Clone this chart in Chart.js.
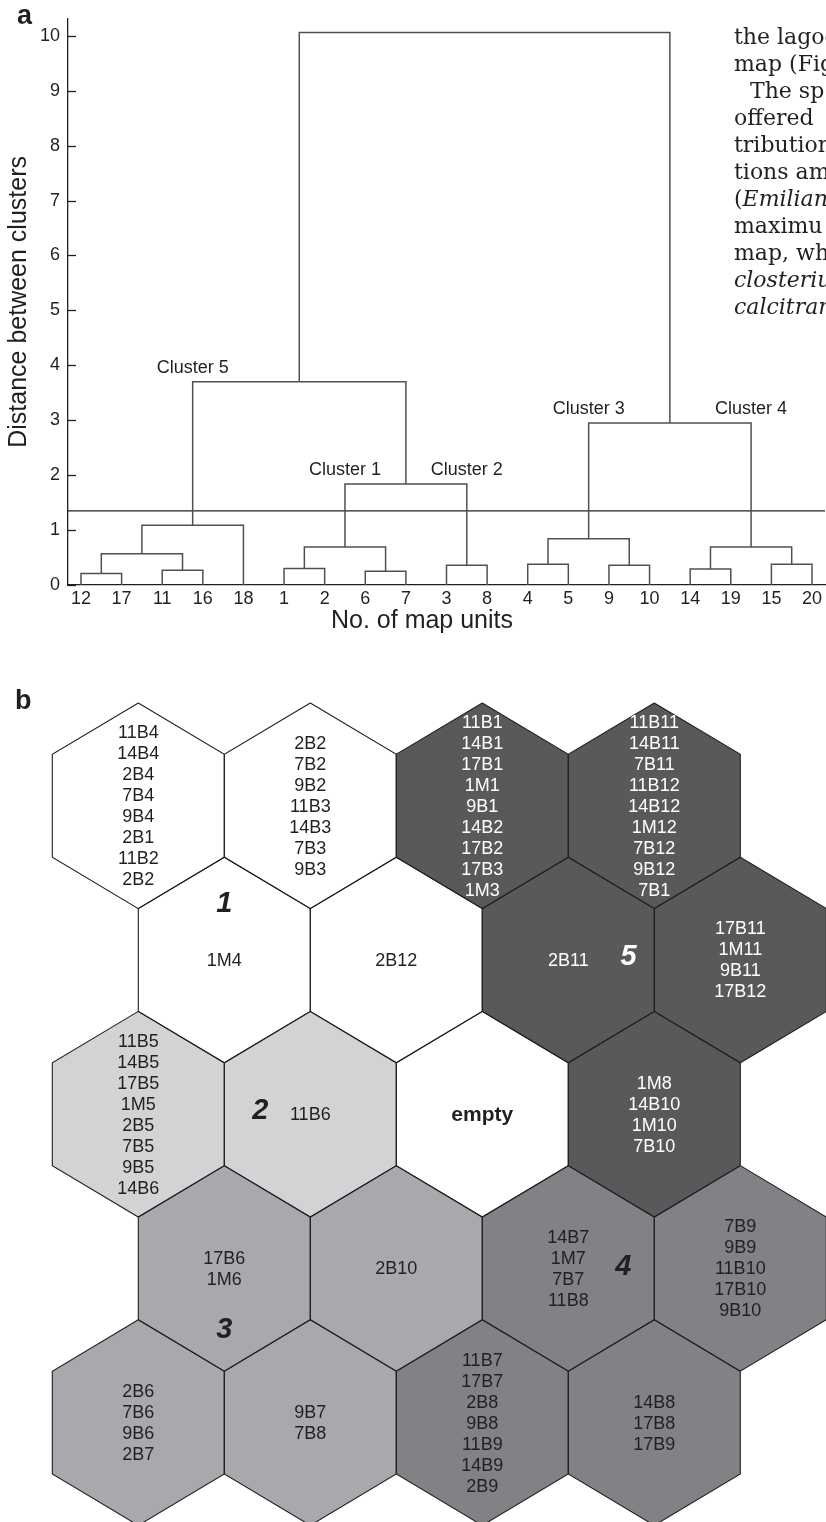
<!DOCTYPE html>
<html>
<head>
<meta charset="utf-8">
<script src="https://cdn.jsdelivr.net/npm/chart.js@4.4.1/dist/chart.umd.min.js"></script>
<style>
html,body{margin:0;padding:0;background:#fff;}
body{width:826px;height:1522px;position:relative;overflow:hidden;font-family:"Liberation Sans",Arial,sans-serif;color:#231f20;}
#wa{position:absolute;left:0;top:0;width:826px;height:640px;}
#wb{position:absolute;left:0;top:640px;width:826px;height:882px;}
.panel{position:absolute;font-weight:bold;font-size:27px;line-height:27px;}
#txt{position:absolute;left:734px;top:23px;font-family:"DejaVu Serif",serif;font-size:22px;line-height:27px;white-space:nowrap;color:#231f20;}
</style>
</head>
<body>
<div id="wa"><canvas id="ca" width="826" height="640"></canvas></div>
<div id="wb"><canvas id="cb" width="826" height="882"></canvas></div>
<div class="panel" style="left:17px;top:2px;">a</div>
<div class="panel" style="left:15px;top:687px;">b</div>
<div id="txt">
<div>the lagoo</div>
<div>map (Fig</div>
<div style="text-indent:16px">The sp</div>
<div>offered</div>
<div>tribution</div>
<div>tions am</div>
<div>(<i>Emilian</i></div>
<div>maximu</div>
<div>map, wh</div>
<div><i>closteriu</i></div>
<div><i>calcitran</i></div>
</div>
<script>
// ---------- DATA: panel a (dendrogram) ----------
const leafLabels = ['12','17','11','16','18','1','2','6','7','3','8','4','5','9','10','14','19','15','20'];
// merges: children are leaf indices (0..18) or merged nodes (19 + merge index)
const mergeLeft   = [0, 2, 19, 21, 5, 7, 23, 9, 25, 22, 11, 13, 29, 15, 17, 32, 31, 28];
const mergeRight  = [1, 3, 20, 4, 6, 8, 24, 10, 26, 27, 12, 14, 30, 16, 18, 33, 34, 35];
const mergeHeight = [0.21, 0.27, 0.57, 1.09, 0.30, 0.25, 0.69, 0.36, 1.84, 3.70, 0.38, 0.36, 0.84, 0.29, 0.38, 0.69, 2.95, 10.06];
const cutHeight = 1.35;
const yTicks = [0,1,2,3,4,5,6,7,8,9,10];
const clusterNames = ['Cluster 5','Cluster 1','Cluster 2','Cluster 3','Cluster 4'];
const clusterNodes = [22, 25, 26, 31, 34];

// ---------- DATA: panel b (SOM hexagon map) ----------
const hexCol = [0,1,2,3, 0,1,2,3, 0,1,2,3, 0,1,2,3, 0,1,2,3];
const hexRow = [0,0,0,0, 1,1,1,1, 2,2,2,2, 3,3,3,3, 4,4,4,4];
const hexCluster = [1,1,5,5, 1,1,5,5, 2,2,0,5, 3,3,4,4, 3,3,4,4];
const hexLabels = [
  ['11B4','14B4','2B4','7B4','9B4','2B1','11B2','2B2'],
  ['2B2','7B2','9B2','11B3','14B3','7B3','9B3'],
  ['11B1','14B1','17B1','1M1','9B1','14B2','17B2','17B3','1M3'],
  ['11B11','14B11','7B11','11B12','14B12','1M12','7B12','9B12','7B1'],
  ['1M4'],
  ['2B12'],
  ['2B11'],
  ['17B11','1M11','9B11','17B12'],
  ['11B5','14B5','17B5','1M5','2B5','7B5','9B5','14B6'],
  ['11B6'],
  ['empty'],
  ['1M8','14B10','1M10','7B10'],
  ['17B6','1M6'],
  ['2B10'],
  ['14B7','1M7','7B7','11B8'],
  ['7B9','9B9','11B10','17B10','9B10'],
  ['2B6','7B6','9B6','2B7'],
  ['9B7','7B8'],
  ['11B7','17B7','2B8','9B8','11B9','14B9','2B9'],
  ['14B8','17B8','17B9']
];
const clusterMarks = ['1','2','3','4','5'];

// ---------- styling / placement (not data) ----------
const INK = '#231f20';
const clusterFill = {0:'#ffffff', 1:'#ffffff', 2:'#d1d3d4', 3:'#a7a9ac', 4:'#808285', 5:'#58595b'};
const markPos = [[0.50,0.64],[0.71,1.98],[0.50,3.40],[2.82,2.99],[2.85,0.98]];
const FONT = '"Liberation Sans", Arial, Helvetica, sans-serif';
Chart.defaults.font.family = FONT;
Chart.defaults.color = INK;

// ---------- panel a ----------
const nLeaves = leafLabels.length;
const nodeX = [], nodeH = [];
for (let i = 0; i < nLeaves; i++) { nodeX.push(i); nodeH.push(0); }
mergeLeft.forEach((l, k) => {
  const r = mergeRight[k];
  nodeX.push((nodeX[l] + nodeX[r]) / 2);
  nodeH.push(mergeHeight[k]);
});
function parentHeight(node) {
  for (let k = 0; k < mergeLeft.length; k++) {
    if (mergeLeft[k] === node || mergeRight[k] === node) return mergeHeight[k];
  }
  return nodeH[node];
}
const X_MIN = -0.32, X_MAX = nLeaves - 1 + 0.32;
const linkSets = mergeLeft.map((l, k) => {
  const r = mergeRight[k], h = mergeHeight[k];
  return {
    data: [{x: nodeX[l], y: nodeH[l]}, {x: nodeX[l], y: h}, {x: nodeX[r], y: h}, {x: nodeX[r], y: nodeH[r]}],
    borderColor: '#4f5052', borderWidth: 1.5, showLine: true, pointRadius: 0, fill: false, tension: 0
  };
});
linkSets.push({
  data: [{x: X_MIN, y: cutHeight}, {x: X_MAX, y: cutHeight}],
  borderColor: INK, borderWidth: 1.3, showLine: true, pointRadius: 0, fill: false, tension: 0
});

const dendroPlugin = {
  id: 'dendroExtras',
  afterDraw(chart) {
    const {ctx, scales: {x, y}} = chart;
    ctx.save();
    // inward y ticks
    ctx.strokeStyle = INK; ctx.lineWidth = 1.3;
    yTicks.forEach(v => {
      const py = Math.round(y.getPixelForValue(v)) + 0.5;
      ctx.beginPath(); ctx.moveTo(x.left, py); ctx.lineTo(x.left + 8, py); ctx.stroke();
    });
    // cluster labels
    ctx.fillStyle = INK; ctx.textAlign = 'center'; ctx.textBaseline = 'middle';
    ctx.font = '18px ' + FONT;
    clusterNames.forEach((name, i) => {
      const n = clusterNodes[i];
      ctx.fillText(name, x.getPixelForValue(nodeX[n]), y.getPixelForValue(parentHeight(n)) - 14);
    });
    // x axis title
    ctx.font = '25px ' + FONT;
    ctx.fillText('No. of map units', 422, 621);
    ctx.restore();
  }
};

new Chart(document.getElementById('ca'), {
  type: 'scatter',
  data: {datasets: linkSets},
  options: {
    responsive: false, animation: false, devicePixelRatio: 1,
    layout: {padding: {top: 18, right: 1, left: 0, bottom: 0}},
    plugins: {legend: {display: false}, tooltip: {enabled: false}},
    scales: {
      x: {
        type: 'linear', min: X_MIN, max: X_MAX,
        afterBuildTicks: s => { s.ticks = leafLabels.map((_, i) => ({value: i})); },
        afterFit: s => { s.height = 55; },
        grid: {display: false, drawTicks: false},
        border: {display: true, color: INK, width: 1.3},
        ticks: {autoSkip: false, maxRotation: 0, minRotation: 0, padding: 3, color: INK,
                font: {size: 18}, callback: v => leafLabels[v]}
      },
      y: {
        type: 'linear', min: 0, max: 10.31,
        afterBuildTicks: s => { s.ticks = yTicks.map(v => ({value: v})); },
        afterFit: s => { s.width = 68; },
        grid: {display: false, drawTicks: false},
        border: {display: true, color: INK, width: 1.3},
        ticks: {padding: 8, color: INK, font: {size: 18}},
        title: {display: true, text: 'Distance between clusters', color: INK,
                font: {size: 25}, padding: {top: 4, bottom: 0}}
      }
    }
  },
  plugins: [dendroPlugin]
});

// ---------- panel b ----------
const HEX = [[0,-2/3],[0.5,-1/3],[0.5,1/3],[0,2/3],[-0.5,1/3],[-0.5,-1/3],[0,-2/3]];
function hexCenter(i) { return [hexCol[i] + (hexRow[i] % 2 ? 0.5 : 0), hexRow[i]]; }
const hexSets = hexLabels.map((_, i) => {
  const [cx, cy] = hexCenter(i);
  return {
    data: HEX.map(([dx, dy]) => ({x: cx + dx, y: cy + dy})),
    showLine: true, pointRadius: 0, tension: 0,
    borderColor: INK, borderWidth: 1.1,
    backgroundColor: clusterFill[hexCluster[i]],
    fill: 'shape'
  };
});

const hexTextPlugin = {
  id: 'hexText',
  afterDatasetsDraw(chart) {
    const {ctx, scales: {x, y}} = chart;
    ctx.save();
    ctx.textAlign = 'center'; ctx.textBaseline = 'middle';
    hexLabels.forEach((lines, i) => {
      const [cx, cy] = hexCenter(i);
      const px = x.getPixelForValue(cx), py = y.getPixelForValue(cy);
      const isEmpty = hexCluster[i] === 0;
      ctx.font = isEmpty ? 'bold 21px ' + FONT : '18px ' + FONT;
      ctx.fillStyle = hexCluster[i] === 5 ? '#ffffff' : INK;
      const lh = 21, y0 = py - (lines.length - 1) * lh / 2 + 1;
      lines.forEach((t, j) => ctx.fillText(t, px, y0 + j * lh));
    });
    ctx.font = 'italic bold 29px ' + FONT;
    clusterMarks.forEach((m, i) => {
      ctx.fillStyle = m === '5' ? '#ffffff' : INK;
      ctx.fillText(m, x.getPixelForValue(markPos[i][0]), y.getPixelForValue(markPos[i][1]));
    });
    ctx.restore();
  }
};

new Chart(document.getElementById('cb'), {
  type: 'scatter',
  data: {datasets: hexSets},
  options: {
    responsive: false, animation: false, devicePixelRatio: 1,
    layout: {padding: 0},
    plugins: {legend: {display: false}, tooltip: {enabled: false},
              filler: {drawTime: 'beforeDatasetsDraw'}},
    scales: {
      x: {type: 'linear', display: false, min: -0.8041, max: 3.9983},
      y: {type: 'linear', display: false, reverse: true, min: -1.0752, max: 4.6446}
    }
  },
  plugins: [hexTextPlugin]
});
</script>
</body>
</html>
